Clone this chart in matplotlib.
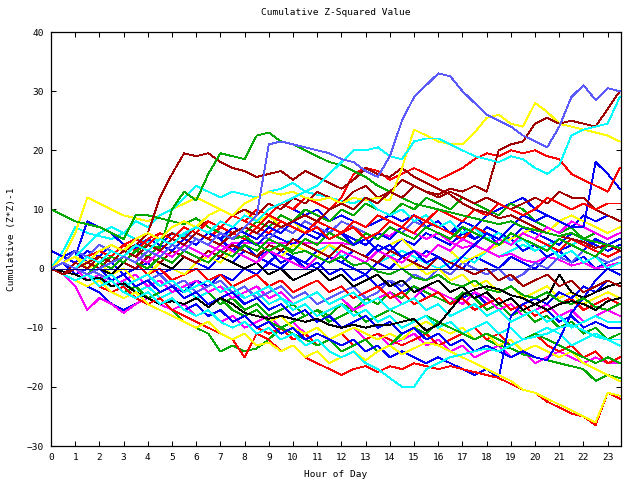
import numpy as np
import matplotlib
matplotlib.use("Agg")
import matplotlib.pyplot as plt

# gnuplot-ish line colours
RED = "#ff0000"
GRN = "#00a800"
BLU = "#0000ff"
MAG = "#ff00ff"
CYN = "#00ffff"
DRD = "#a00000"
YEL = "#ffff00"
BLK = "#000000"
SLB = "#5a5aff"

# readings every half hour (0, 0.5, ... 23.5)
s01 = [0,1,0,-1,0,1,2,1,3,2,4,3,5,4,6,5,7,9,21,21.5,21,20.5,20,19.5,18.5,18,16.5,15.5,19,25,29,31,33,32.5,30,28,26,25,24,22.5,21.5,20.5,24,29,31,28.5,30.5,30]
s02 = [0,1,2,1,3,4,3,5,6,5,7,8,7,9,10,9,11,12,13,12.5,13,12,11.5,12,11,12,11.5,12,11.5,17,23.5,22.5,21.5,21,21,23,25.5,26,24.5,24,28,26.5,24.5,24,23.5,23,22.5,21.5]
s03 = [0,-1,0,1,2,1,3,2,4,3,5,4,6,5,4,6,7,6,8,7,8,9,8,10,11,10,12,11,13,12,14,13,12.5,13.5,13,14,13,20,21,21.5,24.5,25.5,24.5,25,24.5,24,27,30]
s04 = [0,1,0,2,1,3,2,4,3,5,4,6,7,6,8,7,9,8,10,11,12,13,14,16,18,20,20,20.5,19,18.5,21.5,22,22,21,20,19,18.5,18,19,18.5,17,16,17.5,22.5,23.5,24,24.5,29]
s05 = [0,-1,-2,-1,-3,-4,-3,-5,-6,-5,-7,-8,-9,-10,-11,-12,-15,-11,-12,-14,-13,-15,-16,-17,-18,-17,-16.5,-17.5,-16.5,-17,-16,-16.5,-17,-16.5,-17,-17.5,-18,-18.5,-19.5,-20.5,-21,-22.5,-23.5,-24.5,-25,-26.5,-21,-22]
s06 = [0,-1,-2,-3,-2,-4,-5,-4,-6,-7,-8,-9,-10,-9,-11,-12,-11,-13,-12.5,-14,-13,-15,-14,-16,-15,-14,-15.5,-14,-13,-14.5,-13.5,-12.5,-13,-14,-15,-16,-17,-18,-19,-20.5,-21,-22,-23,-24,-25,-26,-21,-21.5]
s07 = [0,-1,-2,-1,-3,-2,-4,-5,-4,-6,-5,-7,-8,-7,-9,-10,-9,-11,-10,-12,-11,-13,-12,-14,-15,-14,-16,-17,-18.5,-20,-20,-17,-16,-15,-14.5,-14,-13.5,-14,-13,-12,-11.5,-11,-10,-9.5,-10.5,-11.5,-12,-13]
s08 = [0,1,0,2,1,3,2,4,6,12,16,19.5,19,19.5,18,17,16.5,15.5,16,16.5,15,16.5,15.5,14.5,13.5,15,17,16,15.5,17,15.5,14.5,13.5,12.5,11,10,9.5,8.5,9,8,7,6,5.5,5,4.5,3.5,4,3]
s09 = [0,1,0,-1,1,2,1,3,4,3.5,10,13,11.5,16,19.5,19,18.5,22.5,23,21.5,21,20,19,18,17.5,16.5,15.5,14,13,12,11,10.5,10,9.5,9,8.5,8,7.5,8,7,6.5,6,5.5,6,5,4.5,4,3.5]
s10 = [10,9,8,7.5,7,6,5,9,9,8.5,8,7.5,8.5,7,6,5,5.5,4,3,4,2.5,3,2,1,2,0.5,1,-0.5,-1,0,-1.5,-2,-1,-2.5,-3,-2,-3.5,-4,-3,-4.5,-5,-4,-5.5,-6,-5,-6.5,-7,-6]
s11 = [0,-0.5,-1,-2,-1.5,-3,-2.5,-4,-5,-6,-5.5,-6,-5,-6.5,-5,-6,-7.5,-8,-8.5,-8,-8.5,-9,-8.5,-9.5,-10,-9.5,-10,-9.5,-9.5,-9,-8.5,-10.5,-9.5,-7,-4.5,-3.5,-3,-3.5,-4.5,-5,-6,-7,-6,-5.5,-6,-7,-5.5,-5]
s12 = [0,1,-1,0,2,1,-1,0,1,-1,0,2,1,0,2,1,3,2,1,3,2,1,0,2,1,0,-1,1,0,2,1,3,2,1,0,2,1,0,2,1,0,2,3,1,2,0,1,2]
s13 = [0,1,2,1,3,2,4,3,5,4,3,5,4,6,5,7,6,5,7,6,8,7,6,5,6,4,5,3,4,2,3,1,2,0,2,4,6,5,7,9,8,9,8,7,7,18,16,13.5]
s14 = [0,1,0,2,3,2,4,3,5,6,5,7,6,8,7,9,8,10,9,11,10,12,11,10,12,16,17,16.5,15,16,17,16,15,16,17,18.5,19.5,19,20,19.5,20,19,18.5,16,15,14,13,17]
s15 = [0,-1,1,0,2,1,3,4,3,5,6,5,7,8,7,9,10,9,11,10,12,11,13,12,11,13,14,12,13,15,14,13,12,13,12,11,12,11,10,11,12,11,13,12,12,10,9,8]
s16 = [0,1,2,1,3,4,3,5,4,6,5,7,6,8,7,9,8,7,9,8,7,6,7,5,6,7,5,6,8,7,9,8,10,9,8,10,9,11,10,9,10,12,11,10,11,10,11,11]
s17 = [0,3,7,6,5.5,5,6,5,4.5,5,6,5.5,7,6,5,6,7,6,5,4,5,4,3,4,2,3,2,1,2,3,2,1,0,1,2,1,3,2,3,4,3,4,5,4,5,6,5,6]
s18 = [0,1,2,8,7,6,4,3.5,5,4,6,5,4,6,5,3,4,2,3,1,2,0,1,-1,0,-2,-1,-3,-2,-4,-3,-5,-4,-6,-5,-4,-6,-5,-7,-6,-8,-7,-9,-8,-10,-9,-10,-10]
s19 = [0,-1,-2,-3,-4,-6,-7,-6,-5,-4,-3,-4,-2,-3,-1,-2,0,-1,1,0,2,1,3,2,1,3,2,4,3,5,4,6,5,4,6,5,7,6,5,7,6,5,4,6,5,4,3,4]
s20 = [0,-1,-3,-7,-5,-6,-7.5,-6,-5,-6,-7,-6,-8,-7,-9,-8,-10,-9,-8,-10,-9,-11,-10,-12,-11,-10,-12,-11,-13,-12,-11,-13,-12,-14,-13,-15,-14,-13,-15,-14,-16,-15,-14,-15,-16,-15,-16,-16]
s21 = [0,-1,0,-2,-1,-3,-2,-4,-3,-5,-4,-3,-5,-4,-6,-5,-7,-6,-8,-7,-6,-8,-7,-9,-8,-7,-9,-8,-7,-8,-9,-8,-9,-10,-11,-10,-12,-13,-13.5,-14.5,-15,-15.5,-16,-16.5,-17,-19,-18,-18.5]
s22 = [0,-1,-2,-1,-3,-4,-3,-5,-6,-5,-7,-9,-10,-11,-14,-13,-14,-13.5,-12,-10,-9,-8,-7,-8,-6,-7,-5,-6,-4,-5,-3,-4,-5,-6,-4,-5,-7,-6,-8,-7,-9,-8,-10,-9,-11,-10,-12,-11]
s23 = [0,-1,-2,-3,-2,-4,-3,-5,-4,-6,-5,-7,-6,-8,-7,-9,-8,-10,-11,-10,-12,-11,-13,-12,-11,-13,-12,-11,-12,-13,-12,-11,-13,-12,-11,-10,-12,-11,-13,-12,-11,-13,-14,-13,-15,-14,-16,-15]
s24 = [0,1,0,-1,0,-2,-1,-3,-2,-4,-3,-5,-4,-6,-5,-7,-8,-7,-9,-8,-10,-11,-10,-12,-11,-10,-11,-12,-11,-12,-10,-9,-10,-11,-10,-12,-11,-13,-12,-14,-13,-14,-15,-14,-16,-17,-18,-19]
s25 = [0,-1,-2,-1,-2,-3,-2,-4,-3,-5,-4,-3,-5,-4,-3,-4,-5,-4,-6,-5,-7,-6,-8,-7,-6,-8,-7,-9,-8,-10,-9,-8,-10,-9,-11,-10,-9,-11,-10,-12,-11,-10,-11,-13,-12,-11,-12,-12]
s26 = [0,1,0,2,1,3,2,1,3,2,4,3,5,4,3,4.3,4.3,4.3,4.3,4.3,4.3,4.3,4.3,4.3,4.3,4,5,6,5.5,7,6,5,6,4.5,3.5,4,3,2,2.5,1.5,1,2,1.5,0.5,1,0,0.5,1]
s27 = [0,-1,0,-2,-1,-3,-2,-1,-3,-2,-4,-3,-2,-4,-3,-5,-4,-3,-5,-4,-6,-5,-4,-6,-5,-7,-6,-5,-4,-6,-5,-3,-4,-5,-6,-4,-5,-7,-6,-8,-7,-6,-8,-7,-9,-8,-7,-8]
s28 = [0,2,1,3,2,4,3,5,4,6,5,7,6,8,7,9,8,10,9,11,10,9,10,8,9,8,7,8,9,8,9,7,8,6,7,5,6,4,5,3,4,2,3,4,3,5,4,5]
s29 = [3,2,3,1,2,4,3,5,4,3,5,4,6,5,4,3,5,4,6,5,4,6,5,7,6,5,4,6,5,7,6,8,7,6,8,7,9,10,11,12,10,9,8,7,9,8,9,8]
s30 = [0,1,3,2,4,3,2,4,3,5,4,6,5,4,6,5,7,6,5,7,6,8,7,6,8,7,6,5,7,6,8,7,6,5,7,6,5,4,6,5,4,3,5,4,3,2,4,3]
s31 = [0,-1,1,0,-1,-2,-1,-3,-2,-1,-3,-2,-4,-3,-2,-4,-3,-5,-4,-3,-5,-4,-6,-5,-4,-3,-5,-4,-2,-3,-1,-2,0,-1,1,0,-1,0,-2,-1,1,0,2,1,3,2,1,2]
s32 = [0,1,0,2,1,0,2,1,-1,0,-2,-1,0,-2,-1,-3,-2,-1,-3,-2,-4,-3,-2,-4,-3,-5,-4,-3,-5,-4,-6,-5,-4,-6,-5,-7,-6,-5,-7,-6,-8,-7,-6,-5,-7,-6,-5,-6]
s33 = [0,1,2,1,3,2,4,3,2,4,3,5,4,6,5,7,6,8,7,9,8,10,9,8,10,9,11,10,9,11,10,12,11,10,12,11,10,9,11,10,8,7,6,7,5,6,5,6]
s34 = [0,-1,-2,-1,-3,-2,-4,-3,-5,-4,-3,-5,-4,-6,-5,-7,-8,-7,-9,-10,-11,-12,-13,-12,-14,-13,-12,-14,-13,-11,-10,-11,-9,-10,-11,-12,-11,-12,-13,-12,-11,-12,-13,-14,-15,-16,-15,-16]
s35 = [0,1,2,0,1,-1,0,-2,-1,1,0,-1,1,2,1,3,2,1,3,2,4,3,2,4,3,2,1,3,2,0,1,-1,0,-2,-1,-3,-2,-4,-3,-5,-4,-3,-5,-4,-6,-5,-4,-5]
s36 = [0,2,6,12,11,10,9,8.5,8,9,10,11,12,11,10,9,10,8,9,7,8,6,7,5,6,4,5,3,4,5,3,2,4,3,1,2,3,4,5,6,7,6,8,9,8,7,6,7]
s37 = [0,1,2,4,6,7,6,8,7,9,10,12,14,13,12,13,12.5,12,13,13.5,14.5,13,12.5,12,11.5,11,12,10,9,10,8,9,7,8,6,7,5,6,4,5,3,4,2,3,1,2,0,1]
s38 = [0,-1,-2,-1,-3,-4,-3,-5,-4,-6,-5,-7,-6,-8,-7,-9,-8,-10,-9,-11,-10,-12,-11,-12,-13,-12,-14,-13,-15,-14,-15,-16,-15,-16,-17,-18,-17,-18.5,-8,-6,-5,-6,-4,-5,-3,-4,-2,-3]
s39 = [0,1,0,-1,0,-2,-1,-3,-2,-4,-3,-5,-4,-6,-5,-4,-6,-5,-7,-6,-8,-7,-9,-8,-10,-9,-8,-10,-9,-11,-10,-12,-11,-13,-12,-14,-13,-14,-15,-14,-15,-15.5,-12,-7.5,-5,-2,0,-1]
s40 = [0,-1,0,1,0,-1,1,0,2,1,0,2,1,3,2,1,0,1,-1,0,-2,-1,0,-2,-1,-3,-2,-1,-3,-2,-4,-3,-2,-4,-3,-5,-4,-6,-5,-7,-6,-5,-1,-4,-5,-4,-3,-2.5]
s41 = [0,1,2,1,3,2,4,5,4,6,5,7,6,5,7,6,5,7,6,8,7,6,8,7,6,8,7,9,8,7,6,8,7,6,5,7,6,5,4,6,5,4,3,5,4,3,2,3]
s42 = [0,-1,0,1,0,2,1,0,2,1,3,2,1,3,2,4,3,2,4,3,5,4,3,2,4,3,2,1,3,2,1,0,2,1,0,-1,0,-2,-1,-3,-2,-1,-3,-2,-4,-3,-2,-3]
s43 = [0,-1,0,-1,-2,-1,-3,-2,-1,-3,-2,-4,-3,-2,-4,-3,-5,-4,-3,-5,-6,-5,-4,-6,-5,-4,-6,-5,-7,-6,-5,-7,-6,-8,-7,-6,-8,-7,-9,-8,-7,-9,-8,-10,-9,-8,-9,-9]
s44 = [0,-1,0,1,2,1,3,2,1,3,2,4,3,2,4,3,2,1,3,2,1,0,2,1,3,2,1,3,2,1,3,2,4,3,5,4,3,5,4,6,5,7,6,8,7,6,5,6]
s45 = [0,1,0,-1,1,0,2,1,0,2,1,3,2,1,3,2,4,3,5,4,3,5,4,6,5,4,6,5,7,6,5,7,6,5,7,6,5,4,6,5,4,3,5,4,3,2,4,3]

series = [
    (s12, BLU), (s17, CYN), (s18, BLU), (s19, BLU), (s20, MAG), (s21, GRN),
    (s22, GRN), (s23, RED), (s24, YEL), (s25, CYN), (s26, MAG), (s27, MAG),
    (s28, BLU), (s29, BLU), (s30, SLB), (s31, SLB), (s32, RED), (s33, GRN),
    (s34, GRN), (s35, YEL), (s36, YEL), (s37, CYN), (s38, BLU), (s39, BLU),
    (s40, BLK), (s41, RED), (s42, DRD), (s43, CYN), (s44, MAG), (s45, GRN),
    (s10, GRN), (s11, BLK), (s13, BLU), (s14, RED), (s15, DRD), (s16, RED),
    (s05, RED), (s06, YEL), (s07, CYN), (s08, DRD), (s09, GRN),
    (s02, YEL), (s03, DRD), (s04, CYN), (s01, SLB),
]

FONT = "DejaVu Sans Mono"
FS = 6.8

fig = plt.figure(figsize=(6.4, 4.8), dpi=100)
ax = fig.add_axes([51/640, 1 - 446/480, 570/640, 414/480])

for vals, col in series:
    x = np.arange(len(vals)) * 0.5
    ax.plot(x, vals, color=col, lw=0.6, antialiased=False)

ax.axhline(0, color="#000090", lw=0.7, antialiased=False)

ax.set_xlim(0, 23.55)
ax.set_ylim(-30, 40)
ax.set_xticks(range(24))
ax.set_yticks(range(-30, 41, 10))
ax.tick_params(direction="in", length=3.6, width=0.75, top=True, right=True,
               labelsize=FS, pad=5, colors="black")
for lab in ax.get_xticklabels() + ax.get_yticklabels():
    lab.set_family(FONT)
for sp in ax.spines.values():
    sp.set_linewidth(0.9)

ax.set_title("Cumulative Z-Squared Value", fontsize=FS, family=FONT, pad=12)
ax.set_xlabel("Hour of Day", fontsize=FS, family=FONT, labelpad=6)
ax.set_ylabel("Cumulative (Z*Z)-1", fontsize=FS, family=FONT, labelpad=8)

fig.savefig("out.png", dpi=100)
